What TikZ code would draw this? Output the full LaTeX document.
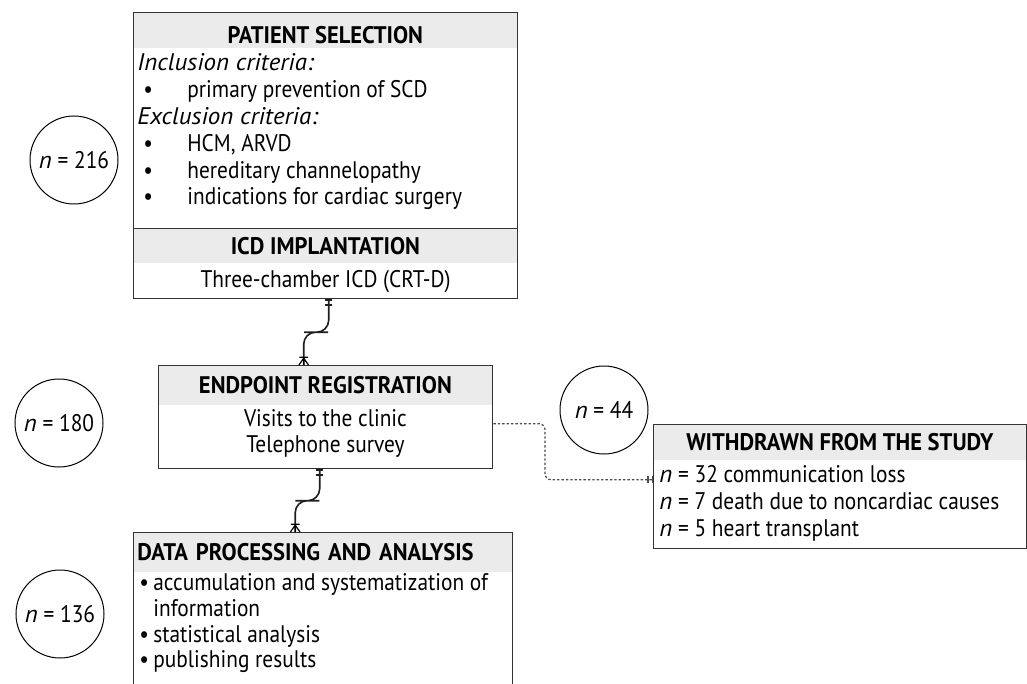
\documentclass[tikz,border=0pt]{standalone}
\usepackage{fontspec}
\setmainfont{PT Sans}[FakeStretch=0.89,
  BoldFeatures={FakeStretch=0.94},
  ItalicFeatures={FakeStretch=1.04}]
\usepackage{xcolor}
\usetikzlibrary{arrows.meta,positioning,calc}

\definecolor{headgray}{HTML}{EBEBEB}
\definecolor{boxline}{HTML}{333333}

\newcommand{\critdot}{\makebox[25pt][l]{\hspace{3pt}\textbullet}}
\newcommand{\taskdot}{\makebox[8pt][l]{\hspace{1pt}\textbullet}}

\tikzset{
  onetip/.tip={Bar[width=3.6pt,sep=1.6pt]Bar[width=3.6pt]},
  crow/.pic={
    \draw[line width=0.6pt] (-2.4pt,0pt) -- (0pt,3.4pt) -- (2.4pt,0pt)
      (0pt,0pt) -- (0pt,3.4pt) (-2.2pt,3.9pt) -- (2.2pt,3.9pt);
  }
}

\begin{document}
\begin{tikzpicture}[
  x=0.5pt, y=-0.5pt,
  font=\fontsize{12}{13.4}\selectfont,
  frame/.style={draw=boxline, line width=0.7pt, inner sep=0pt, anchor=north west},
  band/.style={fill=headgray, inner sep=0pt, anchor=north west, font=\fontsize{12}{13.4}\selectfont\bfseries, text height=8.4pt, text depth=0pt},
  body/.style={inner sep=0pt, align=left, anchor=north west},
  count/.style={draw, circle, line width=0.5pt, minimum size=44pt, inner sep=0pt},
  link/.style={draw=black!88, line width=0.8pt, rounded corners=6pt},
  drop/.style={draw=black!70, line width=0.6pt, dash pattern=on 1.2pt off 1pt, rounded corners=3pt}
]
\useasboundingbox (0,0) rectangle (1027,684);

% ---------- header bands ----------
\node[band, minimum width=192pt, minimum height=18pt, text height=13.4pt] (selecthead) at (133,12) {PATIENT SELECTION};
\node[band, minimum width=192pt, minimum height=17.5pt] (icdhead) at (133,228) {ICD IMPLANTATION};
\node[band, minimum width=167pt, minimum height=20pt] (regishead) at (158,365) {ENDPOINT REGISTRATION};
\node[band, minimum width=189.5pt, minimum height=20pt, text width=185.5pt, inner xsep=2pt, align=left] (datahead) at (133,532) {DATA PROCESSING AND ANALYSIS};
\node[band, minimum width=186.5pt, minimum height=18pt] (quithead) at (653,424) {WITHDRAWN FROM THE STUDY};

% ---------- frames ----------
\node[frame, minimum width=192pt, minimum height=108pt] (select) at (133,12) {};
\node[frame, minimum width=192pt, minimum height=35pt] (icd) at (133,228) {};
\node[frame, minimum width=167pt, minimum height=51.5pt] (regis) at (158,365) {};
\node[frame, minimum width=189.5pt, minimum height=100pt] (data) at (133,532) {};
\node[frame, minimum width=186.5pt, minimum height=62pt] (quit) at (653,424) {};

% ---------- box texts ----------
\node[body] (selecttext) at (137,53.5) {\textit{Inclusion criteria:}\\
  \critdot primary prevention of SCD\\
  \textit{Exclusion criteria:}\\
  \critdot HCM, ARVD\\
  \critdot hereditary channelopathy\\
  \critdot indications for cardiac surgery};
\node (icdtext) at ($(icdhead.south)!0.5!(icd.south)$) {Three-chamber ICD (CRT-D)};
\node[align=center, inner sep=0pt, below=1.5pt of regishead.south] (registext) {Visits to the clinic\\Telephone survey};
\node[body, font=\fontsize{12}{12.85}\selectfont] (datatext) at (137,573.5) {\taskdot accumulation and systematization of\\
  \hphantom{\taskdot}information\\
  \taskdot statistical analysis\\
  \taskdot publishing results};
\node[body] (quittext) at (659,465.5) {\textit{n} = 32 communication loss\\
  \textit{n} = 7 death due to noncardiac causes\\
  \textit{n} = 5 heart transplant};

% ---------- counts ----------
\node[count] (n216) at (74,160) {\textit{n} = 216};
\node[count] (n180) at (59,423) {\textit{n} = 180};
\node[count] (n136) at (60,614) {\textit{n} = 136};
\node[count] (n44) at (604,410) {\textit{n} = 44};

% ---------- connectors ----------
\coordinate (icdout) at ([xshift=1.5pt]icd.south);
\coordinate (regisin) at ([xshift=-11pt]regis.north);
\coordinate (kneeA) at ($(icdout)!0.5!(regisin)$);
\draw[link, {onetip}-] (icdout) |- (kneeA) -| (regisin);
\pic at (regisin) {crow};

\coordinate (regisout) at ([xshift=-3pt]regis.south);
\coordinate (datain) at ([xshift=-14pt]data.north);
\coordinate (kneeB) at ($(regisout)!0.5!(datain)$);
\draw[link, {onetip}-] (regisout) |- (kneeB) -| (datain);
\pic at (datain) {crow};

\coordinate (turn) at (545,450);
\draw[drop, -{onetip}] ([yshift=-3.25pt]regis.east) -| (turn) |- ([yshift=3.5pt]quit.west);

\end{tikzpicture}
\end{document}
